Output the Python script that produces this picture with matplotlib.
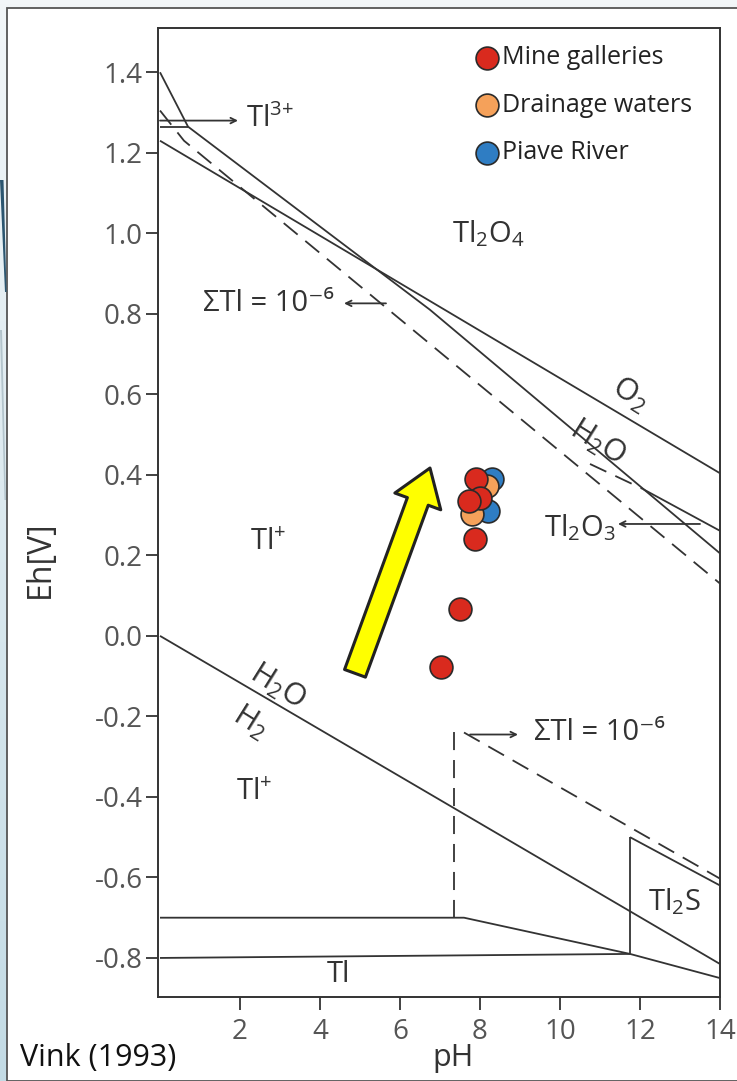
import numpy as np
import matplotlib
matplotlib.use('Agg')
import matplotlib.pyplot as plt
from matplotlib.patches import Rectangle, Polygon

plt.rcParams['font.family'] = ['Open Sans', 'DejaVu Sans']
plt.rcParams['mathtext.fontset'] = 'custom'
plt.rcParams['mathtext.rm'] = 'Open Sans'
plt.rcParams['mathtext.it'] = 'Open Sans'
plt.rcParams['axes.unicode_minus'] = False

# 轴刻度
ph_ticks = [2, 4, 6, 8, 10, 12, 14]
eh_ticks = [-0.8, -0.6, -0.4, -0.2, 0.0, 0.2, 0.4, 0.6, 0.8, 1.0, 1.2, 1.4]
eh_labels = ['-0.8', '-0.6', '-0.4', '-0.2', '0.0', '0.2', '0.4', '0.6', '0.8', '1.0', '1.2', '1.4']

# 水的稳定线
o2_ph, o2_eh = [0, 14], [1.23, 0.404]
h2_ph, h2_eh = [0, 14], [0.0, -0.815]

# Tl 相边界 (实线)
tl2o4_ph, tl2o4_eh = [0, 0.7, 6.75, 14], [1.40, 1.265, 0.81, 0.205]
tl3_ph, tl3_eh = [0, 0.7], [1.265, 1.265]
tl2o3_ph, tl2o3_eh = [12.07, 14], [0.365, 0.261]
tl_top_ph, tl_top_eh = [0, 7.6, 11.75, 14], [-0.70, -0.70, -0.79, -0.85]
tl_bot_ph, tl_bot_eh = [0, 11.75], [-0.80, -0.79]
tl2s_v_ph, tl2s_v_eh = [11.75, 11.75], [-0.79, -0.50]
tl2s_ph, tl2s_eh = [11.75, 14], [-0.50, -0.62]

# ΣTl = 10^-6 (虚线)
d_up_ph, d_up_eh = [0, 0.6, 14], [1.305, 1.23, 0.13]
d_mid_ph, d_mid_eh = [10.75, 12.07], [0.427, 0.365]
d_v_ph, d_v_eh = [7.35, 7.35], [-0.70, -0.225]
d_low_ph, d_low_eh = [7.6, 14], [-0.24, -0.603]

# 样品点
mine_ph = [7.9, 8.0, 7.73, 7.88, 7.5, 7.03]
mine_eh = [0.39, 0.343, 0.335, 0.24, 0.067, -0.078]
drain_ph = [8.17, 7.8]
drain_eh = [0.373, 0.303]
piave_ph = [8.3, 8.2]
piave_eh = [0.39, 0.31]

fig = plt.figure(figsize=(7.37, 10.81), dpi=100)

# 背景
bg = fig.add_axes([0, 0, 1, 1], zorder=-10)
grad = np.linspace(0, 1, 256).reshape(-1, 1)
bg.imshow(grad, aspect='auto', extent=[0, 1, 0, 1], origin='upper',
          cmap=matplotlib.colors.LinearSegmentedColormap.from_list('bg', ['#f2f6f8', '#c3dbe5']))
bg.add_patch(Rectangle((7 / 737, 0), 1, 1 - 8 / 1081, fc='white', ec='#555555', lw=1.3))
bg.add_patch(Polygon([[0, 1 - 180 / 1081], [3.5 / 737, 1 - 180 / 1081], [6.5 / 737, 1 - 292 / 1081],
                      [5 / 737, 1 - 292 / 1081]], closed=True, fc='#2c5670', ec='none'))
bg.add_patch(Polygon([[0, 1 - 330 / 1081], [2 / 737, 1 - 330 / 1081], [6 / 737, 1 - 500 / 1081],
                      [4.5 / 737, 1 - 500 / 1081]], closed=True, fc='#b3c4cc', ec='none'))
bg.set_xlim(0, 1)
bg.set_ylim(0, 1)
bg.axis('off')

ax = fig.add_axes([158 / 737, 84 / 1081, 562 / 737, 969 / 1081])
ax.set_xlim(-0.05, 14)
ax.set_ylim(-0.897, 1.51)

lc = '#333333'
lw = 1.3
dash = (0, (10, 5.5))
for x, y in [(o2_ph, o2_eh), (h2_ph, h2_eh), (tl2o4_ph, tl2o4_eh), (tl3_ph, tl3_eh),
             (tl2o3_ph, tl2o3_eh), (tl_top_ph, tl_top_eh), (tl_bot_ph, tl_bot_eh),
             (tl2s_v_ph, tl2s_v_eh), (tl2s_ph, tl2s_eh)]:
    ax.plot(x, y, color=lc, lw=lw, solid_capstyle='butt')
for x, y in [(d_up_ph, d_up_eh), (d_mid_ph, d_mid_eh), (d_v_ph, d_v_eh), (d_low_ph, d_low_eh)]:
    ax.plot(x, y, color=lc, lw=lw, ls=dash)

# 样品
ms = 270
ax.scatter(piave_ph, piave_eh, s=ms, c='#2f7dc3', edgecolors='#2a2a2a', linewidths=1.2,
           zorder=5, label='Piave River')
ax.scatter(drain_ph, drain_eh, s=ms, c='#f5a15a', edgecolors='#2a2a2a', linewidths=1.2,
           zorder=6, label='Drainage waters')
ax.scatter(mine_ph, mine_eh, s=ms, c='#d92a1e', edgecolors='#2a2a2a', linewidths=1.2,
           zorder=7, label='Mine galleries')

h, l = ax.get_legend_handles_labels()
ax.legend(h[::-1], l[::-1], loc='upper left', bbox_to_anchor=(0.557, 0.982), frameon=False,
          fontsize=18, handletextpad=0.0, labelspacing=0.9, borderaxespad=0, borderpad=0,
          handlelength=1.25, scatterpoints=1, labelcolor='#222222')

# 黄色箭头
ax.annotate('', xy=(6.75, 0.417), xytext=(4.875, -0.093),
            arrowprops=dict(arrowstyle='simple,head_width=2.2,head_length=1.6,tail_width=1.0',
                            mutation_scale=16, fc='#ffff00', ec='#222222', lw=2.2,
                            shrinkA=0, shrinkB=0), zorder=8)

# 区域标注
tc = '#333333'
fs = 21
arr = dict(arrowstyle='->', color=lc, lw=1.3, shrinkA=0, shrinkB=0)
ax.text(8.2, 1.0, 'Tl$_2$O$_4$', fontsize=fs, color=tc, ha='center', va='center')
ax.text(2.15, 1.285, 'Tl$^{3\\!+}$', fontsize=fs, color=tc, ha='left', va='center')
ax.annotate('', xy=(1.95, 1.28), xytext=(0, 1.28), arrowprops=arr)
ax.text(4.35, 0.826, 'ΣTl = 10⁻⁶', fontsize=fs, color=tc, ha='right', va='center')
ax.annotate('', xy=(4.6, 0.826), xytext=(5.65, 0.826), arrowprops=arr)
ax.text(11.75, 0.6, 'O$_2$', fontsize=fs + 1, color=tc, ha='center', va='center', rotation=-32)
ax.text(10.95, 0.48, 'H$_2$O', fontsize=fs + 1, color=tc, ha='center', va='center', rotation=-32)
ax.text(10.5, 0.268, 'Tl$_2$O$_3$', fontsize=fs, color=tc, ha='center', va='center')
ax.annotate('', xy=(11.45, 0.278), xytext=(13.5, 0.278), arrowprops=arr)
ax.text(2.7, 0.233, 'Tl$^{+}$', fontsize=fs, color=tc, ha='center', va='center')
ax.text(2.95, -0.125, 'H$_2$O', fontsize=fs + 1, color=tc, ha='center', va='center', rotation=-32)
ax.text(2.25, -0.215, 'H$_2$', fontsize=fs + 1, color=tc, ha='center', va='center', rotation=-32)
ax.text(2.35, -0.39, 'Tl$^{+}$', fontsize=fs, color=tc, ha='center', va='center')
ax.text(9.35, -0.24, 'ΣTl = 10⁻⁶', fontsize=fs, color=tc, ha='left', va='center')
ax.annotate('', xy=(8.95, -0.245), xytext=(7.75, -0.245), arrowprops=arr)
ax.text(12.85, -0.66, 'Tl$_2$S', fontsize=fs, color=tc, ha='center', va='center')
ax.text(4.45, -0.84, 'Tl', fontsize=fs, color=tc, ha='center', va='center')

# 坐标轴
ax.set_xticks(ph_ticks)
ax.set_yticks(eh_ticks)
ax.set_yticklabels(eh_labels)
ax.tick_params(direction='out', length=9, width=1.3, color=lc, labelsize=20,
               labelcolor='#555555', pad=2)
ax.tick_params(axis='x', pad=6)
for s in ax.spines.values():
    s.set_color(lc)
    s.set_linewidth(1.4)
ax.set_xlabel('pH', fontsize=22, color='#333333', va='center')
ax.xaxis.set_label_coords(0.525, -0.063)
ax.set_ylabel('Eh[V]', fontsize=23, color='#333333', va='center')
ax.yaxis.set_label_coords(-0.21, 0.452)

fig.text(20 / 737, 1 - 1058 / 1081, 'Vink (1993)', fontsize=22, color='#111111',
         ha='left', va='center')

fig.savefig('out.png', dpi=100)
